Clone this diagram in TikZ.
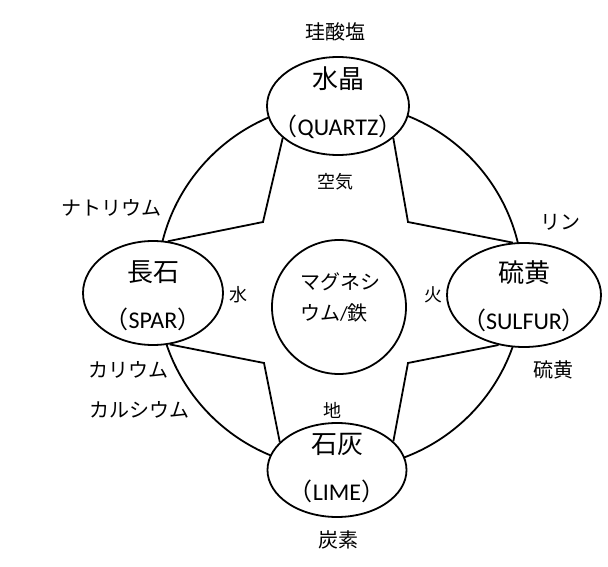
\documentclass[tikz,border=0pt]{standalone}
\usepackage{fontspec}
\setmainfont{Carlito}
\newfontfamily\jpfont{Noto Sans CJK JP}
\usetikzlibrary{shapes.geometric}
\tikzset{
  elemnode/.style={ellipse, draw, line width=1.8pt, fill=white, inner sep=0pt},
  namelabel/.style={inner sep=0pt, align=center, font=\fontsize{24}{47}\selectfont},
  corenode/.style={circle, draw, line width=1.8pt, fill=white, minimum size=134pt, inner sep=0pt},
  ringnode/.style={circle, draw, line width=1.8pt, minimum size=366pt, inner sep=0pt},
  starline/.style={line width=1.8pt, line join=miter},
  sidelabel/.style={inner sep=0pt, font=\jpfont\fontsize{20}{31}\selectfont},
  quallabel/.style={inner sep=0pt, font=\jpfont\fontsize{18}{22}\selectfont}
}
\newcommand{\jpname}[1]{{\jpfont\fontsize{26}{47}\selectfont #1}}
\newcommand{\engname}[1]{{\jpfont （}#1{\jpfont ）}}

\begin{document}
\begin{tikzpicture}[x=1pt, y=-1pt]
\useasboundingbox (0,0) rectangle (608,567);
\node[ringnode] (ring) at (340,286) {};
% the four elements
\node[elemnode, minimum width=142pt, minimum height=98pt] (quartz) at (338,106) {};
\node[elemnode, minimum width=140pt, minimum height=104pt] (spar) at (153,293) {};
\node[elemnode, minimum width=154pt, minimum height=104pt] (sulfur) at (524,295) {};
\node[elemnode, minimum width=139pt, minimum height=94pt] (lime) at (337,470) {};
\node[namelabel] (quartzname) at (338,103) {\jpname{水晶}\\\engname{QUARTZ}};
\node[namelabel] (sparname) at (153,296) {\jpname{長石}\\\engname{SPAR}};
\node[namelabel] (sulfurname) at (524,296) {\jpname{硫黄}\\\engname{SULFUR}};
\node[namelabel] (limename) at (337,468) {\jpname{石灰}\\\engname{LIME}};
\node[corenode] (core) at (339,307) {};
\node[sidelabel, align=left] (coretext) at (340,297) {マグネシ\\ウム{\rmfamily/}鉄};
% star corners
\coordinate (nw) at (263,222);
\coordinate (ne) at (408,222);
\coordinate (sw) at (264,363);
\coordinate (se) at (408,363);
\draw[starline] (quartz.210) -- (nw) -- (spar.74);
\draw[starline] (spar.288) -- (sw) -- (lime.154);
\draw[starline] (lime.27) -- (se) -- (sulfur.243);
\draw[starline] (sulfur.102) -- (ne) -- (quartz.330);
% labels
\node[sidelabel] (silicate) at (335,32) {珪酸塩};
\node[quallabel] (air) at (335,182) {空気};
\node[sidelabel] (sodium) at (111,208) {ナトリウム};
\node[quallabel] (water) at (238,295) {水};
\node[sidelabel] (potassium) at (128,370) {カリウム};
\node[sidelabel] (calcium) at (139,410) {カルシウム};
\node[sidelabel] (phosphorus) at (560,222) {リン};
\node[quallabel] (fire) at (433,295) {火};
\node[sidelabel] (sulfurel) at (553,370) {硫黄};
\node[quallabel] (earth) at (332,410) {地};
\node[sidelabel] (carbon) at (338,540) {炭素};
\end{tikzpicture}
\end{document}
